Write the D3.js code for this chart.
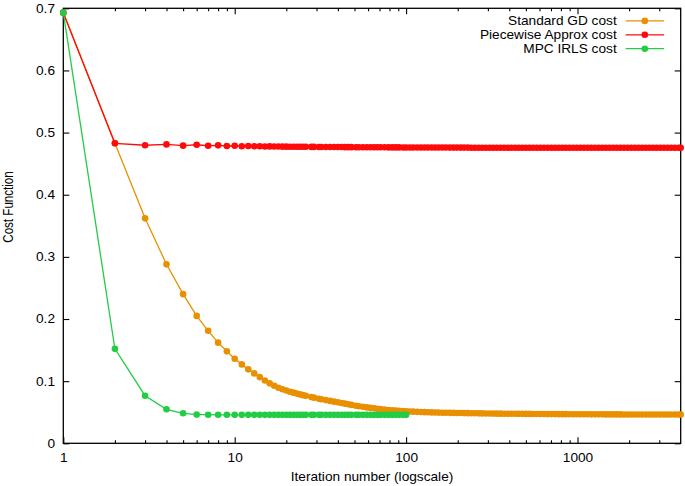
<!DOCTYPE html>
<html>
<head>
<meta charset="utf-8">
<script src="https://cdn.jsdelivr.net/npm/d3@7"></script>
<style>
body { margin: 0; background: #fff; }
svg { display: block; }
text { font-family: "Liberation Sans", Arial, Helvetica, sans-serif; fill: #000; }
</style>
</head>
<body>
<svg id="chart" width="685" height="486"></svg>
<script>
// iterations sampled from the log axis (every one where the points are still apart)
var iterations = [
	1, 2, 3, 4, 5, 6, 7, 8, 9, 10,
	11, 12, 13, 14, 15, 16, 17, 18, 19, 20,
	21, 22, 23, 24, 25, 26, 28, 29, 31, 32,
	34, 36, 38, 40, 42, 44, 46, 48, 51, 53,
	56, 59, 62, 65, 68, 71, 75, 79, 83, 87,
	91, 96, 100, 105, 110, 116, 122, 128, 134, 141,
	148, 155, 163, 171, 180, 189, 198, 208, 218, 229,
	240, 252, 265, 278, 292, 307, 322, 338, 355, 373,
	392, 411, 432, 453, 476, 500, 525, 551, 579, 608,
	638, 670, 704, 739, 776, 815, 855, 898, 943, 990,
	1040, 1092, 1146, 1203, 1264, 1327, 1393, 1463, 1536, 1613,
	1693, 1778, 1867, 1960, 2058, 2161, 2269, 2383, 2502, 2627,
	2758, 2896, 3041, 3193, 3353, 3520, 3696, 3881, 4000
];

var gdCost = [
	.693, .483, .362, .288, .240, .205, .181, .162, .148, .136,
	.127, .119, .1125, .1065, .1010, .0965, .0925, .0895, .0870, .0850,
	.0830, .0815, .0800, .0787, .0775, .0765, .0745, .0735, .0718, .0710,
	.0695, .0682, .0670, .0660, .0648, .0638, .0628, .0618, .0604, .0597,
	.0587, .0578, .0570, .0563, .0556, .0550, .0543, .0537, .0532, .0527,
	.0523, .0519, .0515, .0512, .0509, .0506, .0503, .0501, .0499, .0497,
	.0495, .0494, .0492, .0491, .0490, .0489, .0488, .0487, .0486, .0485,
	.0484, .0483, .0482, .0481, .0480, .0479, .0478, .0477, .0477, .0476,
	.0476, .0475, .0475, .0474, .0474, .0473, .0473, .0472, .0472, .0471,
	.0471, .0470, .0470, .0470, .0469, .0469, .0469, .0468, .0468, .0468,
	.0467, .0467, .0467, .0466, .0466, .0466, .0466, .0465, .0465, .0465,
	.0465, .0465, .0464, .0464, .0464, .0464, .0464, .0464, .0463, .0463,
	.0463, .0463, .0463, .0463, .0463, .0463, .0463, .0463, .0463
];

var pwCost = [
	.693, .4828, .4796, .4810, .4790, .4804, .4788, .4795, .4784, .4788,
	.4781, .4784, .4779, .4781, .4777, .4778, .4775, .4776, .4774, .4774,
	.4773, .4773, .4772, .4772, .4771, .4771, .4770, .4770, .4769, .4769,
	.4768, .4768, .4767, .4767, .4767, .4766, .4766, .4766, .4765, .4765,
	.4765, .4764, .4764, .4764, .4763, .4763, .4763, .4762, .4762, .4762,
	.4762, .4761, .4761, .4761, .4761, .4760, .4760, .4760, .4760, .4760,
	.4759, .4759, .4759, .4759, .4758, .4758, .4758, .4758, .4758, .4758,
	.4757, .4757, .4757, .4757, .4757, .4757, .4757, .4757, .4757, .4757,
	.4757, .4757, .4757, .4756, .4756, .4756, .4756, .4756, .4756, .4756,
	.4756, .4756, .4756, .4756, .4756, .4756, .4756, .4756, .4756, .4756,
	.4755, .4755, .4755, .4755, .4755, .4755, .4755, .4755, .4755, .4755,
	.4755, .4755, .4755, .4755, .4755, .4755, .4755, .4755, .4755, .4755,
	.4755, .4755, .4755, .4755, .4755, .4755, .4755, .4755, .4755
];

// IRLS stops at iteration 100
var irlsCost = [
	.693, .152, .0766, .0547, .0483, .0462, .0460, .0459, .0459, .0458,
	.0458, .0458, .0458, .0458, .0458, .0458, .0458, .0458, .0458, .0458,
	.0458, .0458, .0458, .0458, .0458, .0458, .0458, .0458, .0458, .0458,
	.0458, .0458, .0458, .0458, .0458, .0458, .0458, .0458, .0458, .0458,
	.0458, .0458, .0458, .0458, .0458, .0458, .0458, .0458, .0458, .0458,
	.0458, .0458, .0458
];

var seriesNames = ['Standard GD cost', 'Piecewise Approx cost', 'MPC IRLS cost'];
var seriesColors = ['#e89000', '#ff0a0a', '#22cc44'];

var xMajor = [1, 10, 100, 1000];
var xMinor = [2, 3, 4, 5, 6, 7, 8, 9, 20, 30, 40, 50, 60, 70, 80, 90,
	200, 300, 400, 500, 600, 700, 800, 900, 2000, 3000];
var yTicks = [0, 0.1, 0.2, 0.3, 0.4, 0.5, 0.6, 0.7];

var FONT_SIZE = 12;
var SX = 1.14; // picture is stretched sideways, so the glyphs are too

var margin = {left: 63.3, right: 4.3, top: 8.3, bottom: 42.7};
var width = 685, height = 486;

var svg = d3.select('#chart');

var x = d3.scaleLog().domain([1, 4000]).range([margin.left, width - margin.right]);
var y = d3.scaleLinear().domain([0, 0.7]).range([height - margin.bottom, margin.top]);

var stretch = function (sel) {
	sel.selectAll('text')
		.style('font-size', FONT_SIZE + 'px')
		.attr('x', function () { return (+d3.select(this).attr('x') || 0) / SX; })
		.attr('transform', 'scale(' + SX + ',1)');
};

var styleAxis = function (sel) {
	sel.select('.domain').remove();
	sel.selectAll('line').attr('stroke', '#000').attr('stroke-width', 1.1);
};

// x axis bottom, majors with labels
var gxb = svg.append('g').attr('transform', 'translate(0,' + y(0) + ')')
	.call(d3.axisBottom(x).tickValues(xMajor).tickFormat(d3.format('d'))
		.tickSizeInner(-6).tickSizeOuter(0).tickPadding(10.2));
styleAxis(gxb); stretch(gxb);

svg.append('g').attr('transform', 'translate(0,' + y(0) + ')')
	.call(d3.axisBottom(x).tickValues(xMinor).tickFormat('').tickSizeInner(-3).tickSizeOuter(0))
	.call(styleAxis);

// mirrored x ticks on top
svg.append('g').attr('transform', 'translate(0,' + y(0.7) + ')')
	.call(d3.axisTop(x).tickValues(xMajor).tickFormat('').tickSizeInner(-6).tickSizeOuter(0))
	.call(styleAxis);
svg.append('g').attr('transform', 'translate(0,' + y(0.7) + ')')
	.call(d3.axisTop(x).tickValues(xMinor).tickFormat('').tickSizeInner(-3).tickSizeOuter(0))
	.call(styleAxis);

// y axis left with labels, mirrored on the right
var gyl = svg.append('g').attr('transform', 'translate(' + x(1) + ',0)')
	.call(d3.axisLeft(y).tickValues(yTicks).tickFormat(function (d) { return d === 0 ? '0' : d3.format('.1f')(d); })
		.tickSizeInner(-6).tickSizeOuter(0).tickPadding(8.3));
styleAxis(gyl); stretch(gyl);

svg.append('g').attr('transform', 'translate(' + x(4000) + ',0)')
	.call(d3.axisRight(y).tickValues(yTicks).tickFormat('').tickSizeInner(-6).tickSizeOuter(0))
	.call(styleAxis);

// border
svg.append('rect')
	.attr('x', x(1)).attr('y', y(0.7))
	.attr('width', x(4000) - x(1)).attr('height', y(0) - y(0.7))
	.attr('fill', 'none').attr('stroke', '#000').attr('stroke-width', 1.3);

// axis titles
svg.append('g').attr('transform', 'translate(' + (x(1) + x(4000)) / 2 + ',481) scale(' + SX + ',1)')
	.append('text').attr('text-anchor', 'middle').style('font-size', FONT_SIZE + 'px')
	.text('Iteration number (logscale)');

svg.append('g').attr('transform', 'translate(13.4,207) rotate(-90) scale(1,1.22)')
	.append('text').attr('text-anchor', 'middle').style('font-size', '11.6px')
	.text('Cost Function');

// series
var series = [gdCost, pwCost, irlsCost].map(function (vals, i) {
	return {
		name: seriesNames[i],
		color: seriesColors[i],
		points: vals.map(function (v, j) { return {it: iterations[j], cost: v}; })
	};
});

var line = d3.line().x(function (d) { return x(d.it); }).y(function (d) { return y(d.cost); });

var plot = svg.append('g');
series.forEach(function (s) {
	var g = plot.append('g');
	g.append('path').datum(s.points)
		.attr('d', line).attr('fill', 'none')
		.attr('stroke', s.color).attr('stroke-width', 1.3);
	g.selectAll('circle').data(s.points).enter().append('circle')
		.attr('cx', function (d) { return x(d.it); })
		.attr('cy', function (d) { return y(d.cost); })
		.attr('r', 3.3).attr('fill', s.color);
});

// legend
var legend = svg.append('g');
series.forEach(function (s, i) {
	var cy = 20.9 + i * 13.9;
	legend.append('g').attr('transform', 'translate(616.7,' + (cy + 4.2) + ') scale(' + SX + ',1)')
		.append('text').attr('text-anchor', 'end').style('font-size', FONT_SIZE + 'px').text(s.name);
	legend.append('line').attr('x1', 625.7).attr('x2', 664).attr('y1', cy).attr('y2', cy)
		.attr('stroke', s.color).attr('stroke-width', 1.3);
	legend.append('circle').attr('cx', 644.8).attr('cy', cy).attr('r', 3.3).attr('fill', s.color);
});
</script>
</body>
</html>
